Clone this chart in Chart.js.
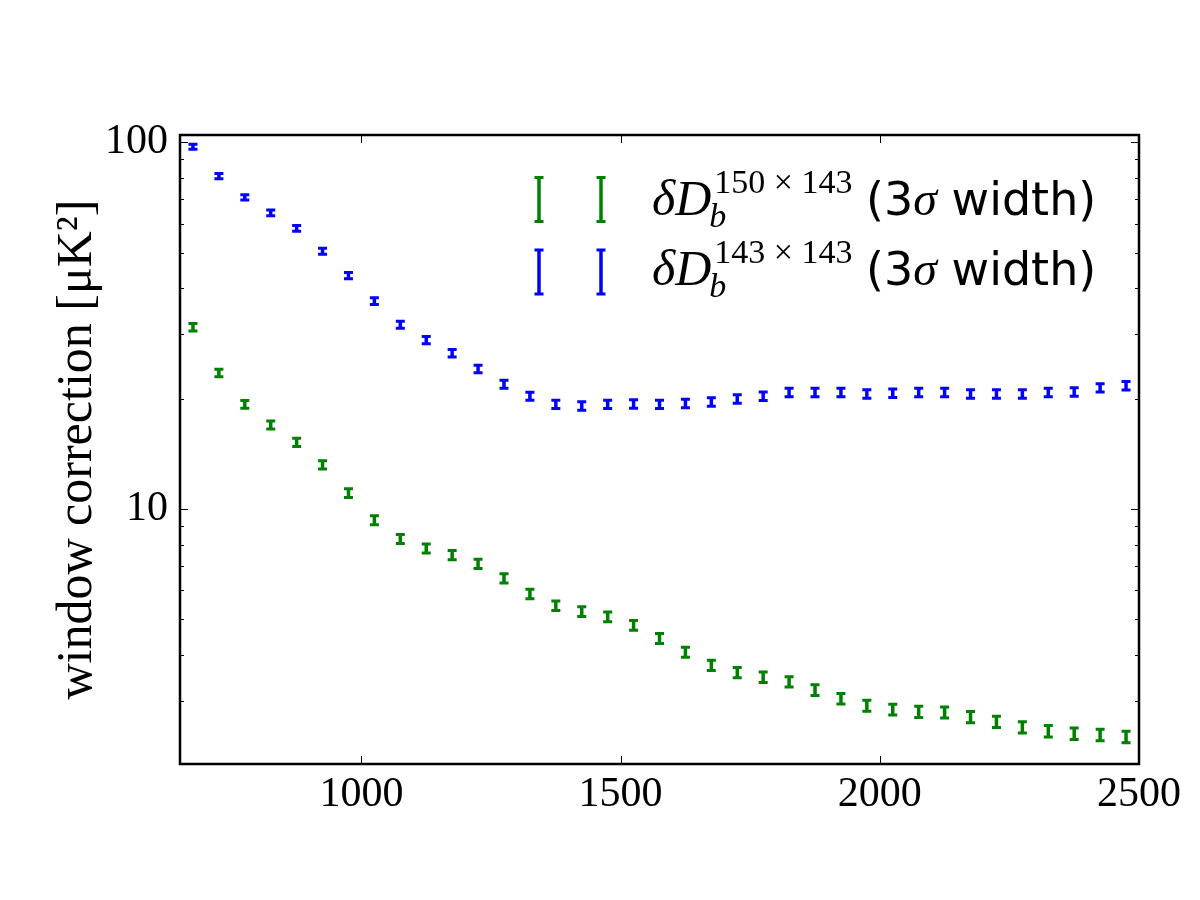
<!DOCTYPE html>
<html>
<head>
<meta charset="utf-8">
<title>window correction</title>
<script src="https://cdn.jsdelivr.net/npm/chart.js@4.4.1/dist/chart.umd.min.js"></script>
<style>
    body { margin: 0; background: #fff; }
    canvas { display: block; }
</style>
</head>
<body>
<canvas id="corr" width="1200" height="900"></canvas>
<script>
// bin centres (multipole ell)
const ellCenters = [675, 725, 775, 825, 875, 925, 975, 1025, 1075, 1125, 1175, 1225, 1275, 1325, 1375, 1425, 1475, 1525, 1575,
    1625, 1675, 1725, 1775, 1825, 1875, 1925, 1975, 2025, 2075, 2125, 2175, 2225, 2275, 2325, 2375, 2425, 2475];

// 150x143 correction and its 3 sigma half width
const green150x143 = [31.3, 23.5, 19.3, 16.95, 15.2, 13.2, 11.05, 9.32, 8.29, 7.81, 7.49, 7.09, 6.47, 5.87, 5.45, 5.25, 5.08, 4.82, 4.44,
    4.07, 3.75, 3.58, 3.48, 3.38, 3.21, 3.04, 2.91, 2.84, 2.80, 2.79, 2.71, 2.63, 2.54, 2.48, 2.44, 2.42, 2.39];
const green150x143Err = [0.74, 0.56, 0.47, 0.43, 0.39, 0.35, 0.30, 0.26, 0.23, 0.22, 0.22, 0.21, 0.19, 0.175, 0.164, 0.16, 0.156, 0.15, 0.14,
    0.129, 0.12, 0.116, 0.114, 0.111, 0.107, 0.102, 0.099, 0.097, 0.097, 0.097, 0.095, 0.092, 0.090, 0.089, 0.087, 0.087, 0.086];

// 143x143 correction and its 3 sigma half width
const blue143x143 = [97.3, 80.9, 70.8, 64.2, 58.3, 50.5, 43.3, 36.9, 31.8, 28.9, 26.6, 24.1, 21.9, 20.3, 19.3, 19.1, 19.3, 19.35, 19.3,
    19.4, 19.6, 19.95, 20.3, 20.8, 20.8, 20.8, 20.6, 20.7, 20.8, 20.8, 20.6, 20.6, 20.6, 20.8, 20.85, 21.4, 21.7];
const blue143x143Err = [1.53, 1.32, 1.20, 1.13, 1.06, 0.95, 0.87, 0.79, 0.70, 0.65, 0.62, 0.58, 0.54, 0.51, 0.51, 0.50, 0.51, 0.51, 0.51,
    0.51, 0.52, 0.53, 0.54, 0.55, 0.55, 0.55, 0.54, 0.55, 0.55, 0.55, 0.54, 0.54, 0.54, 0.55, 0.55, 0.56, 0.57];

const seriesSup = ['150 \u00d7 143', '143 \u00d7 143'];

const xTicks = [1000, 1500, 2000, 2500];
const yMajorTicks = [10, 100];
const yTicks = [3, 4, 5, 6, 7, 8, 9, 10, 20, 30, 40, 50, 60, 70, 80, 90, 100];

function toPoints(vals, errs) {
    return ellCenters.map((x, i) => ({ x: x, y: vals[i], err: errs[i] }));
}

function drawBar(c, x, yLow, yHigh) {
    c.lineWidth = 3.5;
    c.beginPath();
    c.moveTo(x, yLow);
    c.lineTo(x, yHigh);
    c.stroke();
    c.lineWidth = 3;
    c.beginPath();
    c.moveTo(x - 4.5, yLow); c.lineTo(x + 4.5, yLow);
    c.moveTo(x - 4.5, yHigh); c.lineTo(x + 4.5, yHigh);
    c.stroke();
}

// error bars through the chart's own scales
const errorBars = {
    id: 'errorBars',
    afterDatasetsDraw(chart) {
        const c = chart.ctx, a = chart.chartArea;
        const xs = chart.scales.x, ys = chart.scales.y;
        c.save();
        c.beginPath();
        c.rect(a.left, a.top, a.right - a.left, a.bottom - a.top);
        c.clip();
        chart.data.datasets.forEach(ds => {
            c.strokeStyle = ds.borderColor;
            ds.data.forEach(p => {
                drawBar(c, xs.getPixelForValue(p.x), ys.getPixelForValue(p.y - p.err), ys.getPixelForValue(p.y + p.err));
            });
        });
        c.restore();
    }
};

// box round the plot with inward ticks on all four sides
const frame = {
    id: 'frame',
    afterDraw(chart) {
        const c = chart.ctx, a = chart.chartArea;
        const xs = chart.scales.x, ys = chart.scales.y;
        c.save();
        c.strokeStyle = '#000';
        c.lineWidth = 1;
        c.beginPath();
        xTicks.forEach(v => {
            const x = Math.round(xs.getPixelForValue(v)) + 0.5;
            c.moveTo(x, a.bottom); c.lineTo(x, a.bottom - 8);
            c.moveTo(x, a.top); c.lineTo(x, a.top + 8);
        });
        yTicks.forEach(v => {
            const len = yMajorTicks.includes(v) ? 8 : 4;
            const y = Math.round(ys.getPixelForValue(v)) + 0.5;
            c.moveTo(a.left, y); c.lineTo(a.left + len, y);
            c.moveTo(a.right, y); c.lineTo(a.right - len, y);
        });
        c.stroke();
        c.lineWidth = 2.5;
        c.strokeRect(a.left, a.top, a.right - a.left, a.bottom - a.top);
        c.restore();
    }
};

function drawLabel(c, x, base, sup) {
    c.fillStyle = '#000';
    c.textAlign = 'left';
    c.textBaseline = 'alphabetic';
    c.font = 'italic 50px "Liberation Serif"';
    c.fillText('\u03b4D', x, base);
    const w = c.measureText('\u03b4D').width;
    c.font = 'italic 34px "Liberation Serif"';
    c.fillText('b', x + w - 2, base + 12);
    c.font = '34px "Liberation Serif"';
    c.fillText(sup, x + w + 3, base - 22);
    let tx = 866;
    c.font = '46px "DejaVu Sans"';
    c.fillText('(3', tx, base);
    tx += c.measureText('(3').width;
    c.font = 'italic 48px "Liberation Serif"';
    c.fillText('\u03c3', tx, base);
    tx += c.measureText('\u03c3').width;
    c.font = '46px "DejaVu Sans"';
    c.fillText(' width)', tx, base);
}

const legendBox = {
    id: 'legendBox',
    afterDraw(chart) {
        const c = chart.ctx;
        c.save();
        chart.data.datasets.forEach((ds, i) => {
            const mid = 199.5 + i * 72.5;
            c.strokeStyle = ds.borderColor;
            drawBar(c, 539, mid + 22, mid - 22);
            drawBar(c, 601, mid + 22, mid - 22);
            drawLabel(c, 652, 215 + i * 70, seriesSup[i]);
        });
        c.restore();
    }
};

document.addEventListener('DOMContentLoaded', () => {
    const ctx = document.getElementById('corr');
    new Chart(ctx, {
        type: 'scatter',
        data: {
            datasets: [
                {
                    label: '150x143',
                    data: toPoints(green150x143, green150x143Err),
                    borderColor: '#008000',
                    backgroundColor: '#008000',
                    pointRadius: 0,
                    showLine: false
                },
                {
                    label: '143x143',
                    data: toPoints(blue143x143, blue143x143Err),
                    borderColor: '#0000ff',
                    backgroundColor: '#0000ff',
                    pointRadius: 0,
                    showLine: false
                }
            ]
        },
        options: {
            responsive: false,
            animation: false,
            layout: { padding: { top: 135, right: 61, left: 0, bottom: 0 } },
            plugins: {
                legend: { display: false },
                tooltip: { enabled: false }
            },
            scales: {
                x: {
                    type: 'linear',
                    min: 650,
                    max: 2500,
                    afterBuildTicks: s => { s.ticks = xTicks.map(v => ({ value: v })); },
                    afterFit: s => { s.height = 136; },
                    grid: { display: false, drawTicks: false },
                    border: { display: false },
                    ticks: {
                        color: '#000',
                        padding: 6,
                        maxRotation: 0,
                        autoSkip: false,
                        font: { family: '"Liberation Serif", serif', size: 42 },
                        callback: v => String(v)
                    }
                },
                y: {
                    type: 'logarithmic',
                    min: 2.017,
                    max: 104.7,
                    afterBuildTicks: s => { s.ticks = yTicks.map(v => ({ value: v, major: yMajorTicks.includes(v) })); },
                    afterFit: s => { s.width = 180; },
                    grid: { display: false, drawTicks: false },
                    border: { display: false },
                    ticks: {
                        color: '#000',
                        padding: 12,
                        autoSkip: false,
                        font: { family: '"Liberation Serif", serif', size: 42 },
                        callback: v => yMajorTicks.includes(v) ? String(v) : ''
                    },
                    title: {
                        display: true,
                        text: 'window correction [\u03bcK\u00b2]',
                        color: '#000',
                        padding: { top: 48, bottom: 0 },
                        font: { family: '"Liberation Serif", serif', size: 50 }
                    }
                }
            }
        },
        plugins: [errorBars, frame, legendBox]
    });
});
</script>
</body>
</html>
